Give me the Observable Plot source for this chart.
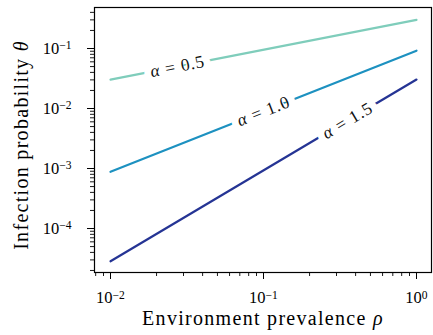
<!DOCTYPE html>
<html>
<head>
<meta charset="utf-8">
<script src="https://cdn.jsdelivr.net/npm/d3@7"></script>
<script src="https://cdn.jsdelivr.net/npm/@observablehq/plot@0.6"></script>
<style>
  html, body { margin: 0; padding: 0; background: #fff; }
  #chart svg { display: block; }
  #chart svg text, #chart svg tspan { font-family: "Liberation Serif", "Times New Roman", serif !important; }
</style>
</head>
<body>
<div id="chart"></div>
<script>
// ---- data ----
const rho = [0.01, 1];                       // environment prevalence (line endpoints)
const theta05 = [0.0303, 0.30];              // alpha = 0.5
const theta10 = [0.00088, 0.092];            // alpha = 1.0
const theta15 = [0.0000285, 0.0304];         // alpha = 1.5
const alphas = [0.5, 1.0, 1.5];
const colors = ["#7fcdbb", "#1d91c0", "#253494"];
const labelRho = [0.0274, 0.1, 0.354];       // inline label positions
const labelTheta = [0.0501, 0.009, 0.0063];
const xTicks = [0.01, 0.1, 1];
const yTicks = [1e-4, 1e-3, 1e-2, 1e-1];
const xLabel = "Environment prevalence ρ";
const yLabel = "Infection probability θ";

// ---- layout ----
const W = 433, H = 335;
const mL = 94, mR = 2, mT = 7, mB = 63;
const xDomain = [Math.pow(10, -2.1046), Math.pow(10, 0.098)];
const yDomain = [Math.pow(10, -4.733), Math.pow(10, -0.3167)];
const FONT = "'Liberation Serif', 'Times New Roman', serif";

const series = [theta05, theta10, theta15];
const lineData = series.flatMap((s, i) => s.map((t, j) => ({alpha: alphas[i], rho: rho[j], theta: t})));
const labelData = alphas.map((a, i) => ({alpha: a, rho: labelRho[i], theta: labelTheta[i]}));

const pxPerDecX = (W - mL - mR) / Math.log10(xDomain[1] / xDomain[0]);
const pxPerDecY = (H - mT - mB) / Math.log10(yDomain[1] / yDomain[0]);
const angle = a => -Math.atan(a * pxPerDecY / pxPerDecX) * 180 / Math.PI;

function minors(domain) {
  const out = [];
  const lo = Math.floor(Math.log10(domain[0])), hi = Math.ceil(Math.log10(domain[1]));
  for (let e = lo; e <= hi; e++) for (let k = 2; k <= 9; k++) {
    const v = k * Math.pow(10, e);
    if (v >= domain[0] && v <= domain[1]) out.push(v);
  }
  return out;
}
const fmt = d => `10^${Math.round(Math.log10(d))}`;

const plot = Plot.plot({
  width: W, height: H,
  marginLeft: mL, marginRight: mR, marginTop: mT, marginBottom: mB,
  style: {fontFamily: FONT, fontSize: "16.5px", color: "#000", background: "#fff"},
  x: {type: "log", domain: xDomain},
  y: {type: "log", domain: yDomain},
  color: {domain: alphas, range: colors},
  marks: [
    Plot.axisX(minors(xDomain), {tickSize: 4, tickFormat: () => "", strokeWidth: 0.9, label: null}),
    Plot.axisX(xTicks, {tickSize: 7, tickPadding: 12, tickFormat: fmt, strokeWidth: 1, label: null, fontSize: 16.5, fontFamily: FONT}),
    Plot.axisY(minors(yDomain), {tickSize: 4, tickFormat: () => "", strokeWidth: 0.9, label: null}),
    Plot.axisY(yTicks, {tickSize: 7, tickPadding: 16, tickFormat: fmt, strokeWidth: 1, label: null, fontSize: 16.5, fontFamily: FONT}),
    Plot.line(lineData, {x: "rho", y: "theta", z: "alpha", stroke: "alpha", strokeWidth: 2.2}),
    Plot.text(labelData, {
      x: "rho", y: "theta", text: d => `α = ${d.alpha.toFixed(1)}`,
      rotate: d => angle(d.alpha), fill: "#111", stroke: "white", strokeWidth: 14,
      strokeLinejoin: "round", fontSize: 17.5, fontFamily: FONT, textAnchor: "middle", lineAnchor: "middle"
    }),
    Plot.frame({stroke: "#000", strokeWidth: 1.2}),
    Plot.text([xLabel], {frameAnchor: "bottom", dy: 52, text: d => d, lineAnchor: "bottom", textAnchor: "middle", fontSize: 20, fontFamily: FONT, fill: "#000"}),
    Plot.text([yLabel], {frameAnchor: "left", dx: -67, dy: 5, rotate: -90, text: d => d, lineAnchor: "bottom", textAnchor: "middle", fontSize: 20, fontFamily: FONT, fill: "#000"})
  ]
});

// ---- typographic post-processing: superscripts & italic Greek ----
const NS = "http://www.w3.org/2000/svg";
plot.querySelectorAll("text").forEach(t => {
  const s = t.textContent;
  const m = s.match(/^10\^(-?\d+)$/);
  if (m) {
    t.textContent = "";
    t.appendChild(document.createTextNode("10"));
    const sup = document.createElementNS(NS, "tspan");
    sup.setAttribute("dy", "-0.4em");
    sup.setAttribute("font-size", "0.7em");
    sup.textContent = m[1].replace("-", "−");
    t.appendChild(sup);
    return;
  }
  if (/[αθρ]/.test(s)) {
    t.textContent = "";
    for (const part of s.split(/([αθρ])/)) {
      if (!part) continue;
      if (/[αθρ]/.test(part)) {
        const sp = document.createElementNS(NS, "tspan");
        sp.setAttribute("font-style", "italic");
        sp.textContent = part;
        t.appendChild(sp);
      } else {
        t.appendChild(document.createTextNode(part));
      }
    }
    if (s.startsWith("Environment") || s.startsWith("Infection")) t.setAttribute("letter-spacing", "1.3");
    if (s.startsWith("α")) t.setAttribute("letter-spacing", "0.8");
  }
});
document.getElementById("chart").appendChild(plot);
</script>
</body>
</html>
